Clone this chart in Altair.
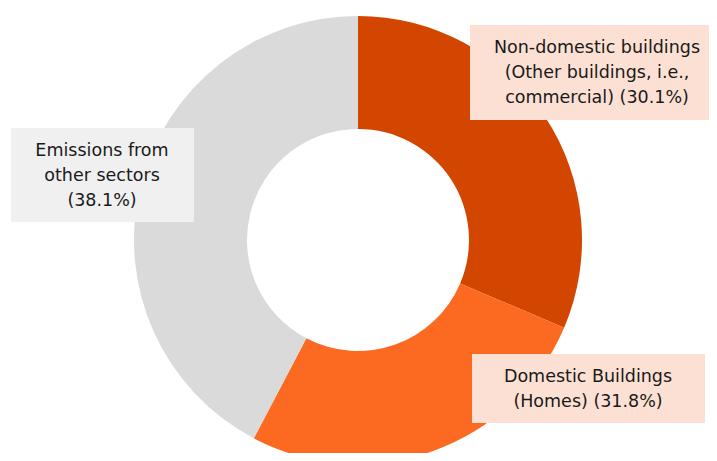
import altair as alt
import pandas as pd

sectors = ["Non-domestic buildings", "Domestic Buildings", "Emissions from other sectors"]
# printed shares (label text)
shares = [30.1, 31.8, 38.1]
# slice sizes as drawn in the picture (percent of the ring)
drawn_shares = [31.4, 26.3, 42.3]
slice_colors = ["#D24600", "#FC6A21", "#DADADA"]

label_lines = [
    ["Non-domestic buildings", "(Other buildings, i.e.,", f"commercial) ({shares[0]}%)"],
    ["Domestic Buildings", f"(Homes) ({shares[1]}%)"],
    ["Emissions from", "other sectors", f"({shares[2]}%)"],
]
label_fills = ["#FDE0D4", "#FDE0D4", "#F0F0F0"]

df = pd.DataFrame({"sector": sectors, "share": drawn_shares, "order": list(range(len(sectors)))})

W, H = 701, 445
CX, CY = 350, 232

donut = alt.Chart(df).mark_arc(radius=224, innerRadius=111).encode(
    theta=alt.Theta("share:Q", stack=True),
    order=alt.Order("order:Q"),
    color=alt.Color("sector:N", scale=alt.Scale(domain=sectors, range=slice_colors), legend=None),
    x=alt.value(CX),
    y=alt.value(CY),
)

# annotation boxes (pixel placement of callouts)
boxes = [
    dict(x=462, x2=709, y=17, y2=112, tx=589, ty=40),
    dict(x=464, x2=697, y=346, y2=415, tx=580, ty=369),
    dict(x=3, x2=186, y=120, y2=214, tx=94, ty=143),
]

one = pd.DataFrame({"k": [0]})
layers = [donut]
for i, b in enumerate(boxes):
    rect = alt.Chart(one).mark_rect(color=label_fills[i]).encode(
        x=alt.value(b["x"]), x2=alt.value(b["x2"]), y=alt.value(b["y"]), y2=alt.value(b["y2"])
    )
    txt = alt.Chart(one).mark_text(
        text=label_lines[i], font="DejaVu Sans", fontSize=17.5, lineHeight=25,
        align="center", baseline="middle", color="#1a1a1a"
    ).encode(x=alt.value(b["tx"]), y=alt.value(b["ty"]))
    layers += [rect, txt]

chart = alt.layer(*layers).properties(
    width=W, height=H, autosize=alt.AutoSizeParams(type="none"), padding=0
).configure_view(stroke=None)

chart.save("out.html", embed_options={"renderer": "svg", "actions": False})
